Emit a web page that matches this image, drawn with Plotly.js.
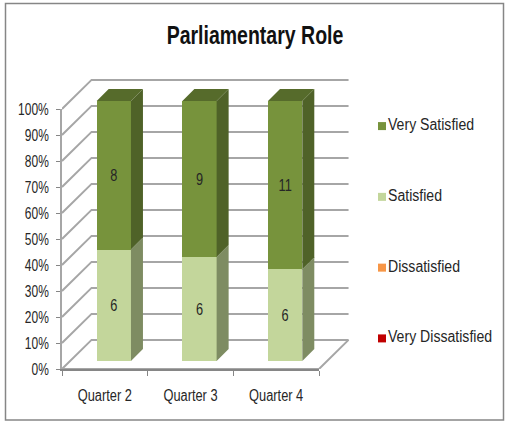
<!DOCTYPE html>
<html><head><meta charset="utf-8">
<script src="https://cdn.plot.ly/plotly-3.0.1.min.js"></script>
<style>html,body{margin:0;padding:0;background:#fff}</style></head>
<body><div id="chart" style="width:505px;height:421px"></div>
<script>
const chartTitle = 'Parliamentary Role';
const quarters = ['Quarter 2','Quarter 3','Quarter 4'];
const seriesNames = ['Very Dissatisfied','Dissatisfied','Satisfied','Very Satisfied'];
const veryDissatisfied = [0,0,0];
const dissatisfied = [0,0,0];
const satisfied = [6,6,6];
const verySatisfied = [8,9,11];
const yTicks = [0,10,20,30,40,50,60,70,80,90,100];

const W=505,H=421;
const dx=v=>v/W, dy=v=>v/H;
const font='"Liberation Sans",Arial,sans-serif';
const xPos=quarters.map((_,i)=>i);
const barW=0.4, sideX=0.14, sideY=4.6;
const wallX=0.345, wallY=11.2;
const gridColor='#a6a6a6';
const ink='#262626';
const pxX=257/3, pxY=2.6; // pixels per category, pixels per percent

const traces=[];
// back wall and floor
const gx=[],gy=[];
yTicks.forEach(t=>{ gx.push(-0.5,-0.5+wallX,2.5+wallX,null); gy.push(t,t+wallY,t+wallY,null); });
gx.push(-0.5,2.5,2.5+wallX,null); gy.push(0,0,wallY,null);
traces.push({type:'scatter',mode:'lines',x:gx,y:gy,xaxis:'x',yaxis:'y',hoverinfo:'skip',showlegend:false,
  line:{color:gridColor,width:2}});
// anchors the labelled axes
traces.push({type:'scatter',mode:'markers',x:xPos,y:xPos.map(()=>0),xaxis:'x2',yaxis:'y2',marker:{opacity:0},hoverinfo:'skip',showlegend:false});

const totals=quarters.map((_,i)=>satisfied[i]+verySatisfied[i]+dissatisfied[i]+veryDissatisfied[i]);
function bar(name,vals,color){
  traces.push({type:'bar',name,x:xPos,y:vals,width:barW,xaxis:'x3',yaxis:'y3',showlegend:false,
    marker:{color,line:{width:0}},text:vals.map(v=>v>0?String(v):''),textposition:'inside',insidetextanchor:'middle',
    textangle:0,constraintext:'none',textfont:{family:font,size:16,color:ink}});
}
bar('Very Dissatisfied',veryDissatisfied,'#c00000');
bar('Dissatisfied',dissatisfied,'#f79646');
bar('Satisfied',satisfied,'#c3d69b');
bar('Very Satisfied',verySatisfied,'#77933c');

function face(xs,ys,color){
  traces.push({type:'scatter',mode:'lines',x:xs,y:ys,xaxis:'x3',yaxis:'y3',fill:'toself',fillcolor:color,
    line:{width:0,color},hoverinfo:'skip',showlegend:false});
}
xPos.forEach((x,i)=>{
  const split=satisfied[i]/totals[i]*100, r=x+barW/2, l=x-barW/2;
  face([r,r+sideX,r+sideX,r,r],[0,sideY,split+sideY,split,0],'#7e8c62');
  face([r,r+sideX,r+sideX,r,r],[split,split+sideY,100+sideY,100,split],'#4f6228');
  face([l,l+sideX,r+sideX,r,l],[100,100+sideY,100+sideY,100,100],'#566b2b');
});

const keyColors=['#c00000','#f79646','#c3d69b','#77933c'];
seriesNames.forEach((n,i)=>{
  traces.push({type:'scatter',mode:'markers+text',x:[0],y:[i],xaxis:'x4',yaxis:'y4',name:n,text:[n],textposition:'middle right',
    cliponaxis:false,hoverinfo:'skip',showlegend:false,
    marker:{symbol:'square',size:8,color:keyColors[i]},textfont:{family:font,size:16,color:ink}});
});

const xTop=40, yTop=20; // spare room (px) for the depth faces
const layout={
  width:W,height:H,margin:{l:0,r:0,t:0,b:0},paper_bgcolor:'#fff',plot_bgcolor:'rgba(0,0,0,0)',showlegend:false,
  barmode:'stack',barnorm:'percent',
  title:{text:chartTitle,x:255/W,xanchor:'center',y:1-35/H,yanchor:'middle',font:{family:font,size:26,weight:'bold',color:'#111'}},
  // wall subplot: same scale as the labelled axes, with room beyond them
  xaxis:{domain:[dx(62),dx(319+xTop)],range:[-0.5,2.5+xTop/pxX],visible:false,anchor:'y'},
  yaxis:{domain:[1-dy(369),1-dy(109-yTop-20)],range:[0,100+(yTop+20)/pxY],visible:false,anchor:'x'},
  // labelled axes
  xaxis2:{domain:[dx(62),dx(319)],range:[-0.5,2.5],tickvals:xPos,ticktext:quarters,ticklen:0,ticks:'',showgrid:false,zeroline:false,
    showline:true,linecolor:'#868686',linewidth:2,anchor:'y2',tickfont:{family:font,size:16,color:ink},ticklabelstandoff:11,
    minor:{tickvals:[-0.5,0.5,1.5,2.5],ticks:'outside',ticklen:5,tickcolor:'#868686',tickwidth:1,showgrid:false}},
  yaxis2:{domain:[1-dy(369),1-dy(109)],range:[0,100],tickvals:yTicks,ticktext:yTicks.map(t=>t+'%'),ticks:'outside',ticklen:4,tickcolor:'#868686',
    showgrid:false,zeroline:false,showline:true,linecolor:'#a6a6a6',linewidth:2,anchor:'x2',ticklabelstandoff:4,tickfont:{family:font,size:16,color:ink}},
  // bars
  xaxis3:{domain:[dx(71),dx(328+xTop)],range:[-0.5,2.5+xTop/pxX],visible:false,anchor:'y3'},
  yaxis3:{domain:[1-dy(361),1-dy(101-yTop)],range:[0,100+yTop/pxY],visible:false,anchor:'x3'},
  // key
  xaxis4:{domain:[dx(377),dx(387)],range:[-0.5,0.5],visible:false,anchor:'y4'},
  yaxis4:{domain:[1-dy(338.5+35.3),1-dy(126-35.3)],range:[-0.5,3.5],visible:false,anchor:'x4'},
  shapes:[{type:'rect',xref:'paper',yref:'paper',x0:dx(5.5),x1:dx(503.5),y0:1-dy(420),y1:1-dy(3.5),line:{color:'#868686',width:1.5},layer:'below'}]
};
// The reference's lettering is condensed; no narrow family is installed, so tighten the real text glyphs.
const squeeze=[['.gtitle',0.75],['.x2tick text',0.8],['.y2tick text',0.75],['.bartext',0.8],['.textpoint text',0.88]];
Plotly.newPlot('chart',traces,layout,{displayModeBar:false,staticPlot:true}).then(gd=>{
  squeeze.forEach(([sel,k])=>gd.querySelectorAll(sel).forEach(t=>{
    if(!t.getComputedTextLength||!t.textContent) return;
    t.setAttribute('lengthAdjust','spacingAndGlyphs');
    t.setAttribute('textLength',(t.getComputedTextLength()*k).toFixed(1));
  }));
});
</script></body></html>
